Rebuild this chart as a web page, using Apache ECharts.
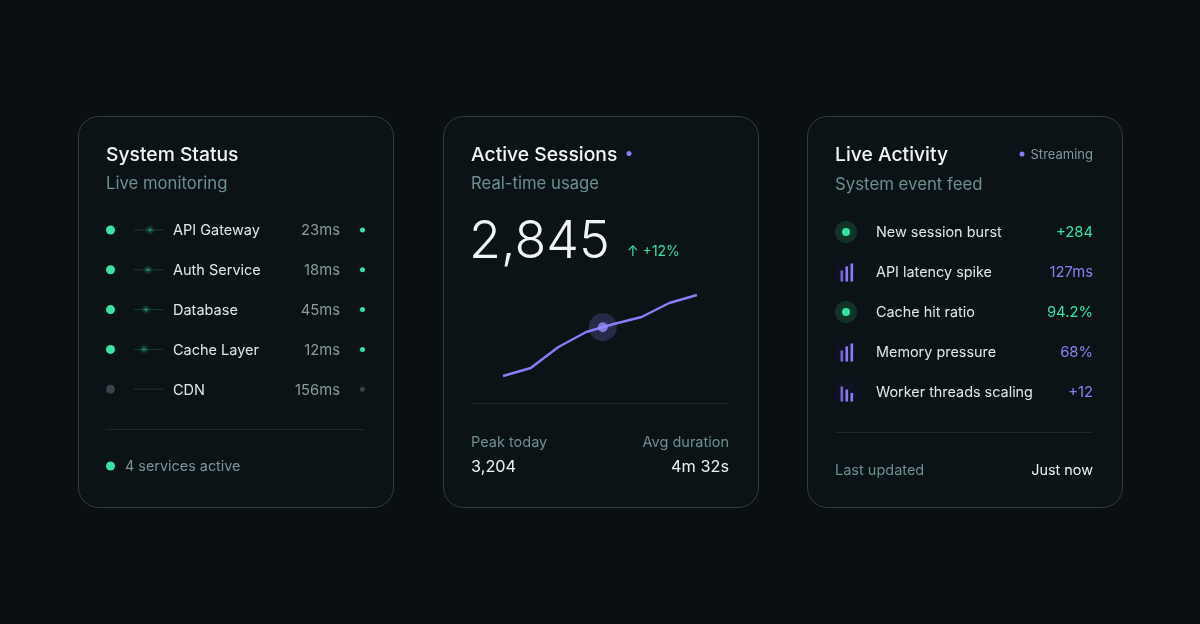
<!DOCTYPE html>
<html>
<head>
<meta charset="utf-8">
<script src="https://cdn.jsdelivr.net/npm/echarts@6/dist/echarts.min.js"></script>
<style>
  html, body { margin: 0; padding: 0; background: #0a1012; }
  #main { width: 1200px; height: 624px; }
</style>
</head>
<body>
<div id="main"></div>
<script>
// System Status
var services = ['API Gateway', 'Auth Service', 'Database', 'Cache Layer', 'CDN'];
var latencies = ['23ms', '18ms', '45ms', '12ms', '156ms'];
var serviceUp = [true, true, true, true, false];

// Active Sessions
var sessionIndex = [0, 1, 2, 3, 4, 5, 6, 7];
var sessionValues = [2090, 2170, 2380, 2530, 2610, 2680, 2820, 2900];
var currentPoint = [3.6, 2578];

// Live Activity
var events = ['New session burst', 'API latency spike', 'Cache hit ratio', 'Memory pressure', 'Worker threads scaling'];
var eventValues = ['+284', '127ms', '94.2%', '68%', '+12'];
var eventKinds = ['dot', 'bars', 'dot', 'bars', 'barsDown'];

var FONT = 'Inter, "Noto Sans", sans-serif';
var GREEN = '#38e3a1';
var PURPLE = '#8b7cf6';
var GREY = '#6f8f8f';
var WHITE = '#f2f5f5';

var g = [];

function card(x) {
    g.push({ type: 'rect', z: 0, shape: { x: x + 0.5, y: 116.5, width: 315, height: 391, r: 20 },
        style: { fill: '#0b1316', stroke: '#343e42', lineWidth: 1 } });
}
function text(x, y, s, size, color, align, weight) {
    g.push({ type: 'text', z: 5, x: x, y: y + 1,
        style: { text: s, fill: color, align: align || 'left', verticalAlign: 'middle',
            font: (weight || 400) + ' ' + size + 'px ' + FONT } });
}
function dot(cx, cy, r, color) {
    g.push({ type: 'circle', z: 5, shape: { cx: cx, cy: cy, r: r }, style: { fill: color } });
}
function hline(x1, x2, y, color) {
    g.push({ type: 'line', z: 4, shape: { x1: x1, y1: y + 0.5, x2: x2, y2: y + 0.5 },
        style: { stroke: color, lineWidth: 1 } });
}

// 卡片1
card(78);
text(106, 154, 'System Status', 19.3, WHITE, 'left', 500);
text(106, 183, 'Live monitoring', 16.7, GREY);
var pulse = [150, 148, 146, 144, 0];
services.forEach(function (name, i) {
    var y = 230 + i * 39.8;
    var c = serviceUp[i] ? GREEN : '#38434a';
    dot(110.5, y, 4.5, c);
    hline(134, 163, y - 0.5, serviceUp[i] ? '#163d31' : '#1a3a30');
    if (serviceUp[i]) {
        g.push({ type: 'circle', z: 5, shape: { cx: pulse[i], cy: y, r: 5 },
            style: { fill: { type: 'radial', x: 0.5, y: 0.5, r: 0.5, colorStops: [
                { offset: 0, color: 'rgba(60,235,165,0.75)' },
                { offset: 0.3, color: 'rgba(60,235,165,0.25)' },
                { offset: 1, color: 'rgba(60,235,165,0)' }] } } });
    }
    text(173, y, name, 14.5, '#e2e8e8');
    text(340, y, latencies[i], 14.8, '#8a9c9c', 'right');
    dot(362.5, y, 2.5, serviceUp[i] ? GREEN : '#3a4448');
});
hline(106, 365, 429, '#1e282b');
dot(110.5, 466, 4.5, GREEN);
text(125, 466, serviceUp.filter(Boolean).length + ' services active', 14.4, '#7c9696');

// 卡片2
card(443);
text(471, 154, 'Active Sessions', 19.3, WHITE, 'left', 500);
dot(629, 153.5, 2.5, PURPLE);
text(471, 183, 'Real-time usage', 16.7, GREY);
text(469, 241, '2,845', 52, WHITE, 'left', 300);
text(627, 251, '↑ +12%', 14, GREEN);
hline(471, 729, 403, '#1e282b');
text(471, 442, 'Peak today', 14.5, GREY);
text(471, 466, '3,204', 16.3, '#eef2f2');
text(729, 442, 'Avg duration', 14.5, GREY, 'right');
text(729, 466, '4m 32s', 16.3, '#eef2f2', 'right');

// 卡片3
card(807);
text(835, 154, 'Live Activity', 19.3, WHITE, 'left', 500);
dot(1022, 154, 2.5, PURPLE);
text(1093, 154, 'Streaming', 13, '#7e9a9a', 'right');
text(835, 184, 'System event feed', 16.8, GREY);
var barsUp = [11, 15, 18];
var barsDown = [15, 12, 8.5];
events.forEach(function (name, i) {
    var y = 232 + i * 40;
    var kind = eventKinds[i];
    var valueColor = (kind === 'dot') ? GREEN : '#8e80f2';
    if (kind === 'dot') {
        dot(846, y, 11, '#123329');
        dot(846, y, 4, GREEN);
    } else {
        dot(846, y, 11, '#0f1222');
        var hs = kind === 'bars' ? barsUp : barsDown;
        hs.forEach(function (h, k) {
            g.push({ type: 'rect', z: 5, shape: { x: 840.5 + k * 5, y: y + 9.5 - h, width: 2.6, height: h },
                style: { fill: PURPLE, opacity: k === 0 ? 0.8 : 1 } });
        });
    }
    text(876, y, name, 14.4, '#e2e8e8');
    text(1093, y, eventValues[i], 14.8, valueColor, 'right');
});
hline(835, 1093, 432, '#1e282b');
text(835, 470, 'Last updated', 14.5, GREY);
text(1093, 470, 'Just now', 14.4, '#eef2f2', 'right');

var lineData = sessionIndex.map(function (x, i) { return [x, sessionValues[i]]; });

var option = {
    backgroundColor: '#0a1012',
    animation: false,
    graphic: { elements: g },
    grid: { left: 503, top: 285, width: 194, height: 100 },
    xAxis: { type: 'value', min: 0, max: 7, show: false },
    yAxis: { type: 'value', min: 2000, max: 3000, show: false },
    series: [
        {
            type: 'line',
            data: lineData,
            symbol: 'none',
            z: 10,
            lineStyle: { color: PURPLE, width: 2.5, join: 'round' }
        },
        {
            type: 'scatter',
            data: [currentPoint],
            symbolSize: 28,
            z: 9,
            itemStyle: { color: 'rgba(139,124,246,0.28)' },
            silent: true
        },
        {
            type: 'scatter',
            data: [currentPoint],
            symbolSize: 10,
            z: 11,
            itemStyle: { color: '#9a8cfb' },
            silent: true
        }
    ]
};

var myChart = echarts.init(document.getElementById('main'));
myChart.setOption(option);
</script>
</body>
</html>
